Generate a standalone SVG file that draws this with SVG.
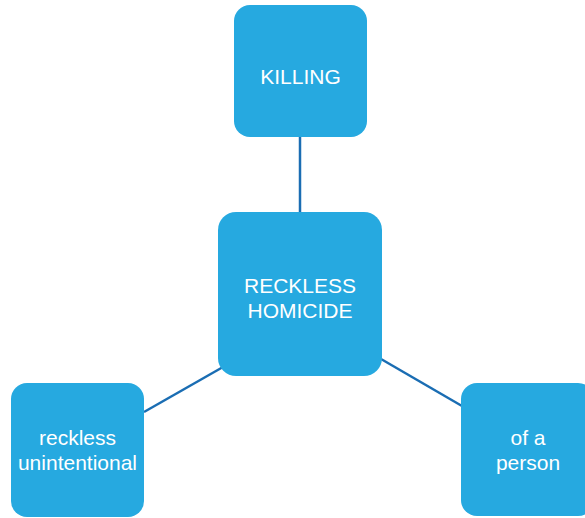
<svg xmlns="http://www.w3.org/2000/svg" width="585" height="518" viewBox="0 0 585 518">
<style>
.box{fill:#26a9e0}
.lbl{font-family:"Liberation Sans",Arial,sans-serif;font-size:21px;fill:#ffffff;text-anchor:middle}
.edge{stroke:#1a6db3;stroke-width:2.5;fill:none}
</style>
<rect width="585" height="518" fill="#ffffff"/>
<g id="connectors">
<line class="edge" x1="300" y1="137" x2="300" y2="213"/>
<line class="edge" x1="144" y1="412" x2="223" y2="367"/>
<line class="edge" x1="381" y1="359" x2="462" y2="406"/>
</g>
<g id="killing">
<rect class="box" x="234" y="5" width="133" height="132" rx="16"/>
<text class="lbl" x="300.5" y="84">KILLING</text>
</g>
<g id="reckless-homicide">
<rect class="box" x="218" y="212" width="164" height="164" rx="18"/>
<text class="lbl" x="300" y="293">RECKLESS</text>
<text class="lbl" x="300" y="318">HOMICIDE</text>
</g>
<g id="reckless-unintentional">
<rect class="box" x="11" y="383" width="133" height="134" rx="16"/>
<text class="lbl" x="77.5" y="445">reckless</text>
<text class="lbl" x="77.5" y="470">unintentional</text>
</g>
<g id="of-a-person">
<rect class="box" x="461" y="383" width="133" height="133" rx="16"/>
<text class="lbl" x="528" y="445">of a</text>
<text class="lbl" x="528" y="470">person</text>
</g>
</svg>
